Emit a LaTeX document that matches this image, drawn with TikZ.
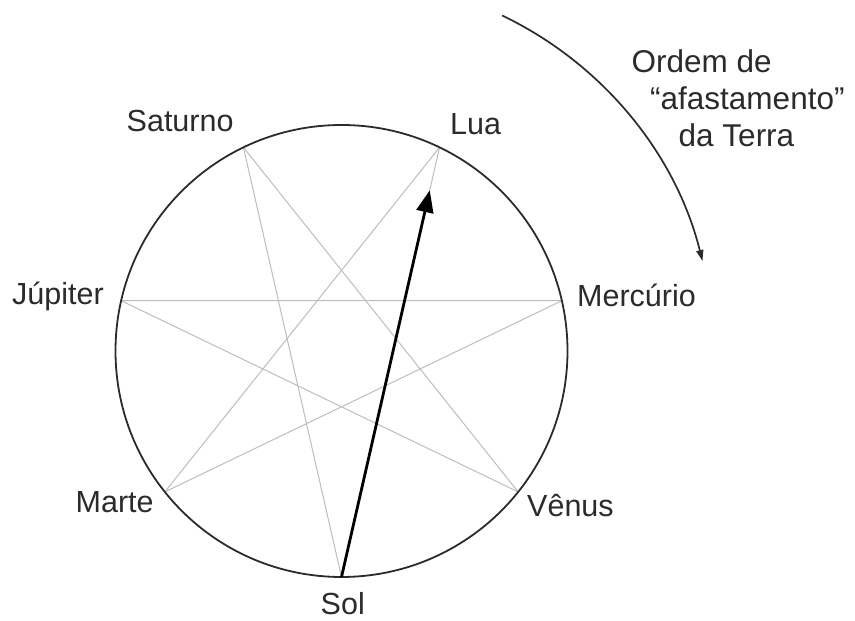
\documentclass[tikz,border=0pt]{standalone}
\usepackage{fontspec}
\setmainfont{Liberation Sans}
\usetikzlibrary{calc,arrows.meta}
\definecolor{ink}{HTML}{2B2B2B}
\definecolor{starline}{HTML}{BDBDBD}
\begin{document}
\begin{tikzpicture}[x=1pt,y=1pt,
  lbl/.style={anchor=base west,inner sep=0pt,text=ink,font=\fontsize{30.5}{37}\selectfont},
  notelbl/.style={anchor=base west,inner sep=0pt,text=ink,font=\fontsize{31.5}{37}\selectfont},
  rim/.style={draw=ink,line width=1.8pt},
  starl/.style={draw=starline,line width=1pt},
  mainarrow/.style={draw=black,line width=2.8pt,-{Triangle[length=22pt,width=17pt]}},
  orderarrow/.style={draw=ink,line width=1.7pt,-{Triangle[length=11pt,width=7pt]}}]
\useasboundingbox (0,0) rectangle (855,621);
\coordinate (O) at (341.5,270);
\coordinate (sol) at ($(O)+(-90:226)$);
\coordinate (venus) at ($(O)+({-90+360/7}:226)$);
\coordinate (mercurio) at ($(O)+({-90+2*360/7}:226)$);
\coordinate (lua) at ($(O)+({-90+3*360/7}:226)$);
\coordinate (saturno) at ($(O)+({-90+4*360/7}:226)$);
\coordinate (jupiter) at ($(O)+({-90+5*360/7}:226)$);
\coordinate (marte) at ($(O)+({-90+6*360/7}:226)$);
% star lines {7/3}
\draw[starl] (sol) -- (lua);
\draw[starl] (venus) -- (saturno);
\draw[starl] (mercurio) -- (jupiter);
\draw[starl] (lua) -- (marte);
\draw[starl] (saturno) -- (sol);
\draw[starl] (jupiter) -- (venus);
\draw[starl] (marte) -- (mercurio);
% circle
\draw[rim] (O) circle[radius=226];
% main arrow
\coordinate (tip) at ($(sol)!0.9!(lua)$);
\draw[mainarrow] (sol) -- (tip);
% order arrow
\coordinate (arcstart) at ($(O)+(64.4:372)$);
\draw[orderarrow] (arcstart) arc[start angle=64.4,end angle=14,radius=372];
% labels
\node[lbl] (tsaturno) at (126.5,489) {Saturno};
\node[lbl] (tlua) at (450,486) {Lua};
\node[lbl] (tjupiter) at (12,316) {Júpiter};
\node[lbl] (tmercurio) at (577,314) {Mercúrio};
\node[lbl] (tmarte) at (75.5,108) {Marte};
\node[lbl] (tvenus) at (527,104) {Vênus};
\node[lbl] (tsol) at (320.5,6) {Sol};
\node[notelbl] (n1) at (631.5,548) {Ordem de};
\node[notelbl] (n2) at (650,511) {“afastamento”};
\node[notelbl] (n3) at (678.5,474) {da Terra};
\end{tikzpicture}
\end{document}
